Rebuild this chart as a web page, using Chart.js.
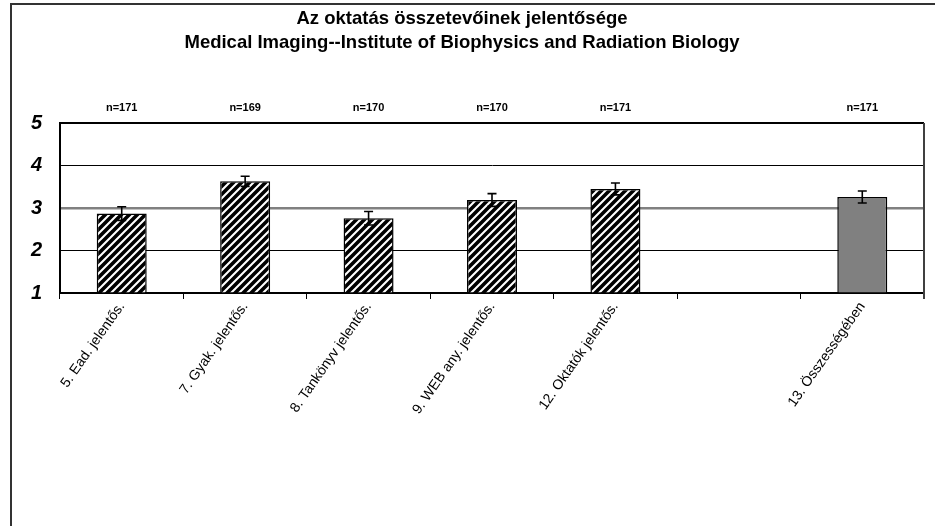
<!DOCTYPE html>
<html>
<head>
<meta charset="utf-8">
<script src="https://cdn.jsdelivr.net/npm/chart.js@4"></script>
<style>
  html, body { margin: 0; padding: 0; background: #fff; }
  #wrap { width: 935px; height: 526px; position: relative; }
</style>
</head>
<body>
<div id="wrap"><canvas id="chart" width="935" height="526"></canvas></div>
<script>
const categories = ['5. Ead. jelentős.', '7. Gyak. jelentős.', '8. Tankönyv jelentős.', '9. WEB any. jelentős.', '12. Oktatók jelentős.', '', '13. Összességében'];
const means = [2.87, 3.63, 2.76, 3.19, 3.45, null, 3.26];
const errors = [0.16, 0.12, 0.16, 0.15, 0.14, null, 0.14];
const counts = ['n=171', 'n=169', 'n=170', 'n=170', 'n=171', '', 'n=171'];
const yTicks = [1, 2, 3, 4, 5];

function hatch() {
  const c = document.createElement('canvas');
  c.width = 8; c.height = 8;
  const g = c.getContext('2d');
  g.fillStyle = '#fff';
  g.fillRect(0, 0, 8, 8);
  g.strokeStyle = '#000';
  g.lineWidth = 3.6;
  g.beginPath();
  g.moveTo(-2, 10); g.lineTo(10, -2);
  g.moveTo(-6, 6); g.lineTo(6, -6);
  g.moveTo(2, 14); g.lineTo(14, 2);
  g.stroke();
  return g.createPattern(c, 'repeat');
}

const ctx = document.getElementById('chart').getContext('2d');
const stripes = hatch();
const fills = categories.map((c, i) => i === categories.length - 1 ? '#808080' : stripes);

const extras = {
  id: 'extras',
  beforeDraw(chart) {
    const g = chart.ctx;
    g.save();
    g.strokeStyle = '#333';
    g.lineWidth = 2;
    g.beginPath();
    g.moveTo(11, 526); g.lineTo(11, 4); g.lineTo(935, 4);
    g.stroke();
    g.restore();
  },
  afterDatasetsDraw(chart) {
    const g = chart.ctx;
    const meta = chart.getDatasetMeta(0);
    const y = chart.scales.y;
    const area = chart.chartArea;
    g.save();
    // right plot border
    g.strokeStyle = '#404040';
    g.lineWidth = 2;
    g.beginPath();
    g.moveTo(area.right, area.top); g.lineTo(area.right, area.bottom + 6);
    g.stroke();
    // error bars
    g.strokeStyle = '#000';
    g.lineWidth = 1.6;
    meta.data.forEach((bar, i) => {
      if (means[i] == null) return;
      const top = y.getPixelForValue(means[i] + errors[i]);
      const bot = y.getPixelForValue(means[i] - errors[i]);
      g.beginPath();
      g.moveTo(bar.x, top); g.lineTo(bar.x, bot);
      g.moveTo(bar.x - 4.5, top); g.lineTo(bar.x + 4.5, top);
      g.moveTo(bar.x - 4.5, bot); g.lineTo(bar.x + 4.5, bot);
      g.stroke();
    });
    // n labels
    g.fillStyle = '#000';
    g.font = 'bold 11px "Liberation Sans", Arial, sans-serif';
    g.textAlign = 'center';
    g.textBaseline = 'middle';
    const xs = chart.scales.x;
    counts.forEach((t, i) => {
      if (t) g.fillText(t, xs.getPixelForValue(i), 108);
    });
    g.restore();
  }
};

new Chart(ctx, {
  type: 'bar',
  data: {
    labels: categories,
    datasets: [{
      data: means,
      base: 1,
      backgroundColor: fills,
      borderColor: '#000',
      borderWidth: 1.5,
      barPercentage: 0.405,
      categoryPercentage: 1
    }]
  },
  options: {
    responsive: false,
    animation: false,
    layout: { padding: { left: 0, right: 11, top: 0, bottom: 0 } },
    plugins: {
      legend: { display: false },
      tooltip: { enabled: false },
      title: {
        display: true,
        text: ['Az oktatás összetevőinek jelentősége', 'Medical Imaging--Institute of Biophysics and Radiation Biology'],
        color: '#000',
        font: { family: '"Liberation Sans", Arial, sans-serif', size: 18.5, weight: 'bold', lineHeight: 1.3 },
        padding: { top: 7, bottom: 68 }
      }
    },
    scales: {
      x: {
        afterFit(s) { s.height = 233; },
        grid: { drawOnChartArea: false, drawTicks: true, tickLength: 6, color: '#000', offset: true },
        border: { display: true, color: '#000', width: 2 },
        ticks: {
          autoSkip: false, minRotation: 55, maxRotation: 55, padding: 0, color: '#000',
          font: { family: '"Liberation Sans", Arial, sans-serif', size: 14 }
        }
      },
      y: {
        min: 1, max: 5,
        afterFit(s) { s.width = 60; },
        afterBuildTicks(s) { s.ticks = yTicks.map(v => ({ value: v })); },
        grid: {
          drawTicks: false,
          color: c => c.tick && c.tick.value === 3 ? '#808080' : '#000',
          lineWidth: c => c.tick && c.tick.value === 3 ? 2.5 : (c.tick && c.tick.value === 5 ? 2 : 1)
        },
        border: { display: true, color: '#000', width: 2 },
        ticks: {
          padding: 18, color: '#000',
          font: { family: '"Liberation Sans", Arial, sans-serif', size: 20, weight: 'bold', style: 'italic' }
        }
      }
    }
  },
  plugins: [extras]
});
</script>
</body>
</html>
